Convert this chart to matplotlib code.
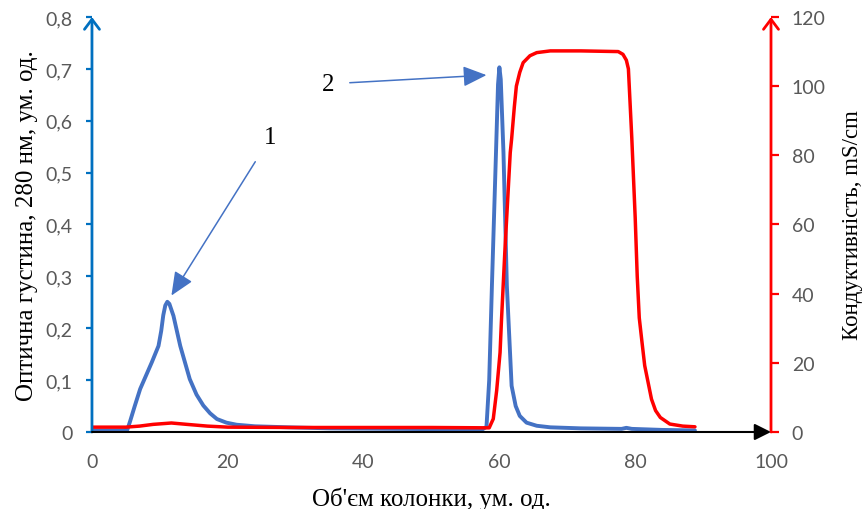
import matplotlib
matplotlib.use('agg')
import matplotlib.pyplot as plt

# optical density at 280 nm (left axis)
od_x = [0, 2, 4, 5.2, 5.6, 6.3, 7.1, 8.0, 8.8, 9.8, 10.2, 10.5, 10.8, 11.1, 11.4, 12.0, 13.0,
        14.4, 15.4, 16.4, 17.4, 18.4, 19.8, 21.3, 24, 29, 35, 45, 55, 57.5, 58.1, 58.5, 58.9,
        59.5, 59.8, 60.0, 60.2, 60.6, 61.1, 61.8, 62.4, 63.0, 64.0, 65.5, 67.5, 72, 78, 78.7,
        79.5, 84, 88.8]
od_y = [0.003, 0.003, 0.003, 0.004, 0.02, 0.05, 0.083, 0.11, 0.134, 0.166, 0.195, 0.225,
        0.244, 0.251, 0.247, 0.224, 0.166, 0.102, 0.072, 0.051, 0.036, 0.025, 0.018, 0.014,
        0.011, 0.009, 0.007, 0.006, 0.005, 0.005, 0.01, 0.1, 0.282, 0.539, 0.67, 0.703, 0.68,
        0.539, 0.282, 0.089, 0.05, 0.031, 0.018, 0.012, 0.009, 0.007, 0.006, 0.008, 0.006,
        0.004, 0.003]

# conductivity, mS/cm (right axis)
cond_x = [0, 5, 7, 9, 11.7, 14, 17, 20, 30, 40, 50, 58.5, 59.1, 59.6, 60.1, 60.3, 60.8,
          61.6, 61.8, 62.2, 62.5, 63.0, 63.5, 64.5, 65.5, 67.5, 72, 77.5, 78.2, 78.7, 79.0,
          79.5, 80.0, 80.3, 80.6, 81.0, 81.4, 82.4, 83.0, 83.7, 85.1, 87, 88.8]
cond_y = [1.4, 1.4, 1.7, 2.2, 2.6, 2.2, 1.7, 1.4, 1.3, 1.3, 1.3, 1.2, 3.8, 12, 23, 32, 52,
          80.8, 84.7, 94, 100, 104, 106.8, 108.8, 109.7, 110.2, 110.2, 110, 109.2, 107.5, 105,
          85, 62, 45, 33, 26, 19.2, 9.5, 6.2, 4.2, 2.3, 1.7, 1.5]

x_ticks = [0, 20, 40, 60, 80, 100]
od_ticks = [0, 0.1, 0.2, 0.3, 0.4, 0.5, 0.6, 0.7, 0.8]
od_labels = ['0', '0,1', '0,2', '0,3', '0,4', '0,5', '0,6', '0,7', '0,8']
cond_ticks = [0, 20, 40, 60, 80, 100, 120]

x_label = "Об'єм колонки, ум. од."
od_label = 'Оптична густина, 280 нм, ум. од.'
cond_label = 'Кондуктивність, mS/cm'

BLUE = '#4472C4'
AXBLUE = '#0070C0'
RED = '#FF0000'
GREY = '#595959'
TICKFONT = 'Lato'
SERIF = 'Liberation Serif'

fig = plt.figure(figsize=(8.66, 5.10), dpi=100)
ax = fig.add_axes([0.1062, 0.151, 0.7841, 0.8137])
ax2 = ax.twinx()

ax.plot(od_x, od_y, color=BLUE, lw=2.8, solid_capstyle='round', solid_joinstyle='round')
ax2.plot(cond_x, cond_y, color=RED, lw=2.5, solid_capstyle='round', solid_joinstyle='round')

ax.set_xlim(0, 100)
ax.set_ylim(0, 0.8)
ax2.set_ylim(0, 120)

for a in (ax, ax2):
    for s in a.spines.values():
        s.set_visible(False)

ax.set_xticks(x_ticks)
ax.set_xticklabels([str(v) for v in x_ticks])
ax.tick_params(axis='x', length=0, pad=15, labelsize=14, labelcolor=GREY)
ax.set_yticks(od_ticks)
ax.set_yticklabels(od_labels)
ax.tick_params(axis='y', length=4, width=1.6, color=AXBLUE, pad=10,
               labelsize=14, labelcolor=GREY)
ax2.set_yticks(cond_ticks)
ax2.tick_params(axis='y', length=6, width=1.6, color=RED, pad=9,
                labelsize=14, labelcolor=GREY)
for lab in ax.get_xticklabels() + ax.get_yticklabels() + ax2.get_yticklabels():
    lab.set_fontfamily(TICKFONT)

ax.set_xlabel(x_label, family=SERIF, fontsize=18, labelpad=12)
ax.set_ylabel(od_label, family=SERIF, fontsize=18, labelpad=5)
ax2.set_ylabel(cond_label, family=SERIF, fontsize=16.5, labelpad=12)

# axis lines with arrows
ax2.annotate('', xy=(0, 1), xytext=(0, 0), xycoords='axes fraction',
             arrowprops=dict(arrowstyle='->,head_length=0.4,head_width=0.3',
                             color=AXBLUE, lw=2, mutation_scale=18, shrinkA=0, shrinkB=0))
ax2.annotate('', xy=(1, 1), xytext=(1, 0), xycoords='axes fraction',
             arrowprops=dict(arrowstyle='->,head_length=0.4,head_width=0.3',
                             color=RED, lw=2, mutation_scale=18, shrinkA=0, shrinkB=0))
ax2.annotate('', xy=(1, 0), xytext=(0, 0), xycoords='axes fraction',
             arrowprops=dict(arrowstyle='-|>,head_length=0.5,head_width=0.25',
                             color='black', lw=1.5, mutation_scale=20, shrinkA=0, shrinkB=0))

# peak labels
ax.annotate('1', xy=(11.7, 0.263), xytext=(26.3, 0.568), ha='center', va='center',
            family=SERIF, fontsize=18,
            arrowprops=dict(arrowstyle='-|>,head_length=0.8,head_width=0.35',
                            color=BLUE, lw=1.1, mutation_scale=18, shrinkA=9, shrinkB=0))
ax.annotate('2', xy=(58.1, 0.688), xytext=(34.8, 0.671), ha='center', va='center',
            family=SERIF, fontsize=18,
            arrowprops=dict(arrowstyle='-|>,head_length=0.8,head_width=0.35',
                            color=BLUE, lw=1.1, mutation_scale=18, shrinkA=9, shrinkB=0))

fig.savefig('out.png', dpi=100)
